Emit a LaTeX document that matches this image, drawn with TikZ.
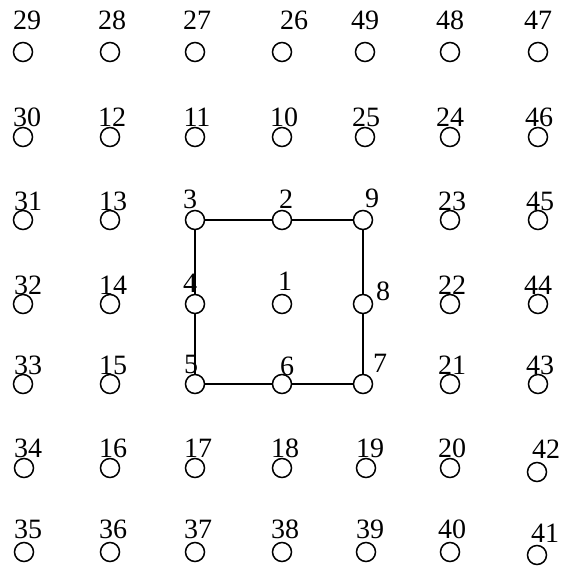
\documentclass[tikz,border=0pt]{standalone}
\usepackage{fontspec}
\setmainfont{Liberation Serif}
\usetikzlibrary{positioning}

\tikzset{
  site/.style={draw=black,circle,line width=1.5pt,minimum size=19pt,inner sep=0pt},
  num/.style={anchor=base,inner sep=0pt,font=\fontsize{28}{30}\selectfont},
  ring/.style={line width=1.4pt}
}

\begin{document}
\begin{tikzpicture}[x=1pt,y=-1pt]
\useasboundingbox (0,0) rectangle (565,567);
% grid of sites: number / x / y / label shift / label lift
\foreach \k/\x/\y/\dx/\dy in {
  29/23/52/4/22, 28/110/52/2/22, 27/195/52/2/22, 26/282/52/12/22, 49/365/52/0/22, 48/450/52/0/22, 47/538/52/0/22,
  30/23/137/4/10, 12/110/137/2/10, 11/195/137/2/10, 10/282/137/2/10, 25/365/137/1/10, 24/450/137/0/10, 46/538/137/1/10,
  31/23/220/5/10, 13/110/220/3/10, 3/195/220/-5/12, 2/282/220/4/12, 9/363/220/9/13, 23/450/220/2/10, 45/538/220/2/10,
  32/23/304/5/10, 14/110/304/3/10, 4/195/304/-5/12, 1/282/304/3/14, 8/363/304/20/4, 22/450/304/2/10, 44/538/304/0/10,
  33/23/384/5/10, 15/110/384/3/10, 5/195/384/-4/11, 6/282/384/5/9, 7/363/384/17/12, 21/450/384/2/10, 43/538/384/2/10,
  34/24/468/4/11, 16/110/468/3/11, 17/195/468/3/11, 18/282/468/3/11, 19/366/468/4/11, 20/450/468/2/11, 42/537/472/9/14,
  35/24/552/4/14, 36/110/552/3/14, 37/195/552/3/14, 38/282/552/3/14, 39/366/552/4/14, 40/450/552/2/14, 41/537/555/8/13}
{
  \node[site] (n\k) at (\x,\y) {};
  \node[num] (l\k) at ({\x+\dx},{\y-\dy}) {\k};
}
% the square of sites round 1
\draw[ring] (n3)--(n2)--(n9)--(n8)--(n7)--(n6)--(n5)--(n4)--(n3);
\end{tikzpicture}
\end{document}
